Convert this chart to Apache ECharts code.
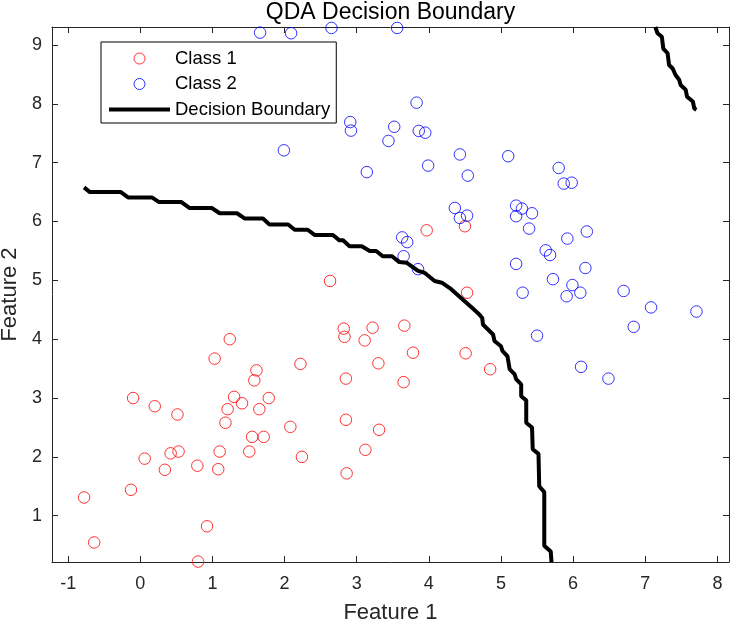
<!DOCTYPE html>
<html><head><meta charset="utf-8">
<script src="https://cdn.jsdelivr.net/npm/echarts@6/dist/echarts.min.js"></script>
<style>html,body{margin:0;padding:0;background:#fff}#c{width:732px;height:626px}</style>
</head><body><div id="c"></div>
<script>
// ---- data ----
const class1X = [-0.78,-0.64,-0.10,0.20,0.515,-0.13,0.06,0.34,0.42,0.53,0.79,0.80,0.925,1.03,1.24,1.10,1.08,1.18,1.21,1.30,1.41,1.51,1.55,1.58,1.61,1.65,1.71,1.78,2.08,2.22,2.24,2.82,2.83,2.85,2.85,2.86,3.11,3.12,3.22,3.30,3.31,3.66,3.78,3.65,4.51,4.85,3.97,4.50,4.53,2.63];
const class1Y = [1.31,0.545,3.00,2.86,2.72,1.44,1.97,1.78,2.06,2.09,1.85,0.22,0.82,3.67,4.00,2.09,1.79,2.58,2.81,3.02,2.91,2.09,2.34,3.30,3.47,2.81,2.34,3.00,2.51,3.58,2.00,4.18,4.04,3.33,2.63,1.72,3.98,2.12,4.195,3.59,2.46,4.23,3.77,3.27,3.76,3.49,5.85,5.92,4.79,4.99];
const class2X = [3.56,3.83,3.52,3.44,3.86,3.95,3.14,3.99,4.43,4.54,5.10,5.80,5.87,5.98,4.36,4.43,4.53,5.21,5.29,5.43,5.21,5.39,3.63,3.70,3.65,3.85,5.21,5.30,5.62,5.68,5.92,6.19,6.17,5.72,5.99,5.91,6.10,6.70,7.08,7.71,5.50,6.11,6.49,6.84,1.66,2.09,2.65,1.99,2.91,2.92];
const class2Y = [9.29,8.02,7.61,7.37,7.54,7.51,6.84,6.95,7.14,6.78,7.11,6.91,6.645,6.66,6.23,6.06,6.10,6.27,6.22,6.14,6.09,5.88,5.73,5.65,5.41,5.19,5.28,4.79,5.51,5.43,5.71,5.83,5.21,5.02,4.92,4.73,4.79,4.82,4.54,4.47,4.06,3.53,3.33,4.21,9.21,9.20,9.29,7.21,7.69,7.545];
const boundary1X = [-0.78,-0.70,-0.27,-0.17,0.16,0.26,0.57,0.68,0.99,1.10,1.34,1.45,1.70,1.79,2.05,2.14,2.32,2.42,2.67,2.76,2.81,2.90,3.07,3.18,3.27,3.36,3.49,3.59,3.69,3.85,3.94,4.08,4.18,4.31,4.61,4.70,4.74,4.75,4.89,4.91,5.00,5.02,5.09,5.12,5.19,5.21,5.28,5.28,5.35,5.35,5.43,5.44,5.52,5.53,5.60,5.60,5.69,5.70];
const boundary1Y = [6.58,6.50,6.50,6.41,6.41,6.33,6.33,6.23,6.23,6.14,6.14,6.05,6.05,5.95,5.95,5.86,5.86,5.77,5.77,5.68,5.68,5.58,5.58,5.50,5.50,5.41,5.41,5.31,5.30,5.16,5.13,4.99,4.96,4.85,4.52,4.42,4.36,4.25,4.08,3.97,3.88,3.80,3.71,3.49,3.40,3.32,3.23,3.03,2.96,2.58,2.50,2.13,2.05,1.50,1.40,0.49,0.39,0.21];
const boundary2X = [7.14,7.17,7.23,7.25,7.31,7.33,7.38,7.42,7.47,7.49,7.56,7.58,7.66,7.68,7.71];
const boundary2Y = [9.306,9.20,9.14,8.94,8.86,8.66,8.60,8.49,8.41,8.32,8.24,8.12,8.04,7.92,7.90];
const xTicks = [-1,0,1,2,3,4,5,6,7,8];
const yTicks = [1,2,3,4,5,6,7,8,9];
const xRange = [-1.2246, 8.161];
const yRange = [0.213, 9.306];
const titleText = 'QDA Decision Boundary';

// ---- chart ----
const FONT = '"Liberation Sans", Arial, Helvetica, sans-serif';
const AX = '#262626';
const pairs = (xs, ys) => xs.map((x, i) => [x, ys[i]]);

// centre title over plot area
const cv = document.createElement('canvas').getContext('2d');
cv.font = '23px "Liberation Sans"';
const titleW = cv.measureText(titleText).width;
const plotLeft = 52, plotRightGap = 3;
const titleLeft = (plotLeft + 732 - plotRightGap) / 2 - titleW / 2;

function xAxisDef(pos, showLabel) {
  return {
    type: 'value', position: pos, min: xRange[0], max: xRange[1],
    axisLine: { show: true, onZero: false, lineStyle: { color: AX, width: 1 } },
    axisTick: { show: true, inside: true, length: 6, customValues: xTicks, lineStyle: { color: AX } },
    axisLabel: { show: showLabel, customValues: xTicks, margin: 13, fontSize: 18, color: AX, fontFamily: FONT },
    splitLine: { show: false },
    name: showLabel ? 'Feature 1' : '', nameLocation: 'middle', nameGap: 40,
    nameTextStyle: { fontSize: 22, color: AX, fontFamily: FONT }
  };
}
function yAxisDef(pos, showLabel) {
  return {
    type: 'value', position: pos, min: yRange[0], max: yRange[1],
    axisLine: { show: true, onZero: false, lineStyle: { color: AX, width: 1 } },
    axisTick: { show: true, inside: true, length: 6, customValues: yTicks, lineStyle: { color: AX } },
    axisLabel: { show: showLabel, customValues: yTicks, margin: 10, fontSize: 18, color: AX, fontFamily: FONT },
    splitLine: { show: false },
    name: showLabel ? 'Feature 2' : '', nameLocation: 'middle', nameGap: 30, nameRotate: 90,
    nameTextStyle: { fontSize: 22, color: AX, fontFamily: FONT }
  };
}

const chart = echarts.init(document.getElementById('c'), null, { renderer: 'canvas' });
chart.setOption({
  animation: false,
  backgroundColor: '#fff',
  title: {
    text: titleText, left: titleLeft, top: 1, padding: 0,
    textStyle: { fontSize: 23, fontWeight: 'normal', color: '#000', fontFamily: FONT }
  },
  grid: { left: plotLeft, right: plotRightGap, top: 27, bottom: 64, containLabel: false, outerBoundsMode: 'none' },
  xAxis: [xAxisDef('bottom', true), xAxisDef('top', false)],
  yAxis: [yAxisDef('left', true), yAxisDef('right', false)],
  legend: {
    orient: 'vertical', left: 101, top: 42, padding: [7, 6, 4, 8], itemGap: 6.5,
    itemWidth: 61, itemHeight: 11, borderColor: '#000', borderWidth: 1, backgroundColor: '#fff',
    textStyle: { fontSize: 18.5, color: '#000', fontFamily: FONT },
    data: [
      { name: 'Class 1', icon: 'circle', itemStyle: { color: 'rgba(0,0,0,0)', borderColor: '#ff0000', borderWidth: 1 } },
      { name: 'Class 2', icon: 'circle', itemStyle: { color: 'rgba(0,0,0,0)', borderColor: '#0000ff', borderWidth: 1 } },
      { name: 'Decision Boundary', icon: 'path://M0,0L61,0L61,4L0,4Z', itemStyle: { color: '#000', borderWidth: 0 } }
    ]
  },
  series: [
    { name: 'Class 1', type: 'scatter', symbol: 'circle', symbolSize: 11.5, clip: false,
      itemStyle: { color: 'rgba(0,0,0,0)', borderColor: '#ff0000', borderWidth: 1 },
      data: pairs(class1X, class1Y) },
    { name: 'Class 2', type: 'scatter', symbol: 'circle', symbolSize: 11.5, clip: false,
      itemStyle: { color: 'rgba(0,0,0,0)', borderColor: '#0000ff', borderWidth: 1 },
      data: pairs(class2X, class2Y) },
    { name: 'Decision Boundary', type: 'line', symbol: 'none', showSymbol: false,
      lineStyle: { color: '#000', width: 4 }, itemStyle: { color: '#000' },
      data: pairs(boundary1X, boundary1Y) },
    { name: 'Decision Boundary', type: 'line', symbol: 'none', showSymbol: false,
      lineStyle: { color: '#000', width: 4 }, itemStyle: { color: '#000' },
      data: pairs(boundary2X, boundary2Y) }
  ]
});
</script>
</body></html>
